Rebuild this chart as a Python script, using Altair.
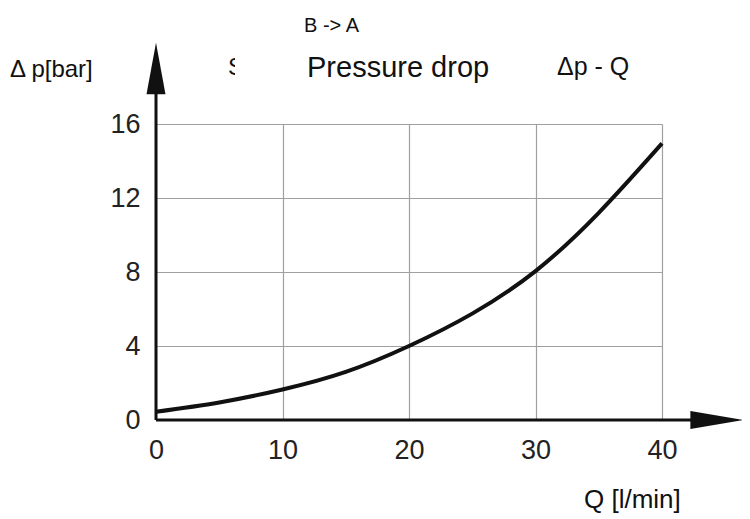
import altair as alt
import pandas as pd

# Data
q_values = [0, 5, 10, 15, 20, 25, 30, 35, 40]
dp_values = [0.45, 0.95, 1.65, 2.6, 4.0, 5.75, 8.05, 11.2, 14.95]
x_ticks = [0, 10, 20, 30, 40]
y_ticks = [0, 4, 8, 12, 16]

FONT = "Liberation Sans"

curve_df = pd.DataFrame({"Q": q_values, "dp": dp_values})

xscale = alt.Scale(domain=[0, 40], nice=False, zero=False)
yscale = alt.Scale(domain=[0, 16], nice=False, zero=False)

base_axes = alt.Chart(pd.DataFrame({"Q": [0], "dp": [0]})).mark_point(opacity=0).encode(
    x=alt.X("Q:Q", scale=xscale,
            axis=alt.Axis(values=x_ticks, title=None, domain=False, ticks=False,
                          grid=True, gridColor="#a0a0a0", gridWidth=1.2,
                          labelFont=FONT, labelFontSize=27, labelColor="#222",
                          labelFlush=False, labelOverlap=False,
                          labelPadding=17)),
    y=alt.Y("dp:Q", scale=yscale,
            axis=alt.Axis(values=y_ticks, title=None, domain=False, ticks=False,
                          grid=True, gridColor="#a0a0a0", gridWidth=1.2,
                          labelFont=FONT, labelFontSize=27, labelColor="#222",
                          labelFlush=False, labelOverlap=False,
                          labelPadding=16)),
)

# axis lines with arrows (in data units)
x_axis_line = alt.Chart(pd.DataFrame({"x": [0], "x2": [43], "y": [0]})).mark_rule(
    color="#111", strokeWidth=3).encode(x="x:Q", x2="x2:Q", y="y:Q")
y_axis_line = alt.Chart(pd.DataFrame({"x": [0], "y": [0], "y2": [18]})).mark_rule(
    color="#111", strokeWidth=3).encode(x="x:Q", y="y:Q", y2="y2:Q")

x_arrow = alt.Chart(pd.DataFrame({"x": [44.34], "y": [0]})).mark_point(
    shape="M -1 -0.34 L 1 0 L -1 0.34 Z", filled=True, color="#111", opacity=1,
    size=2809, strokeWidth=0).encode(x="x:Q", y="y:Q")
y_arrow = alt.Chart(pd.DataFrame({"x": [0], "y": [19.0]})).mark_point(
    shape="M -0.37 1 L 0 -1 L 0.37 1 Z", filled=True, color="#111", opacity=1,
    size=2632, strokeWidth=0).encode(x="x:Q", y="y:Q")

curve = alt.Chart(curve_df).mark_line(
    color="#111", strokeWidth=4, interpolate="natural").encode(x="Q:Q", y="dp:Q")

def label(text, x, y, size, align="left"):
    return alt.Chart(pd.DataFrame({"t": [text]})).mark_text(
        font=FONT, fontSize=size, color="#111", align=align, baseline="alphabetic"
    ).encode(text="t:N", x=alt.value(x), y=alt.value(y))

texts = [
    label("B -> A", 148, -92, 20),
    label("S", 72, -49, 24),
    label("Pressure drop", 151, -47, 29),
    label("\u0394p - Q", 401, -49, 25),
    label("\u0394 p[bar]", -146, -47, 24),
    label("Q [l/min]", 428, 384, 26),
]

# white mask hiding the right part of the stray "S" glyph, as in the reference
s_mask = alt.Chart(pd.DataFrame({"m": [1]})).mark_rect(color="white").encode(
    x=alt.value(79), x2=alt.value(100), y=alt.value(-80), y2=alt.value(-40))

chart = alt.layer(base_axes, x_axis_line, y_axis_line, curve, x_arrow, y_arrow,
                  *texts, s_mask).properties(
    width=506, height=296,
    autosize=alt.AutoSizeParams(type="none"),
    padding={"left": 148, "top": 116, "right": 80, "bottom": 94},
).configure_view(stroke=None).configure(background="white")

chart.save("out.html", embed_options={"renderer": "svg", "actions": False})
